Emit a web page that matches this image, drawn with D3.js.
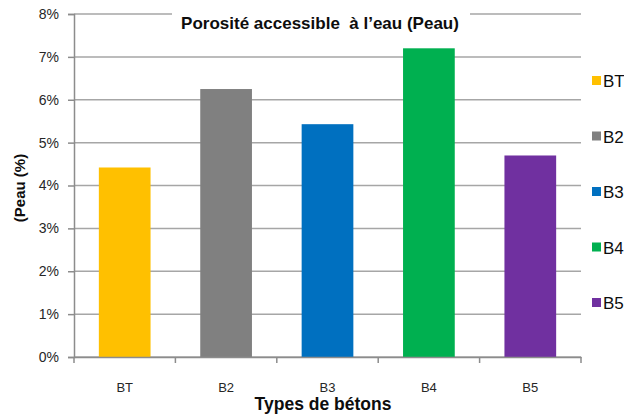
<!DOCTYPE html>
<html>
<head>
<meta charset="utf-8">
<script src="https://cdn.jsdelivr.net/npm/d3@7"></script>
<style>
  body { margin: 0; background: #fff; }
  text { font-family: "Liberation Sans", Arial, sans-serif; }
</style>
</head>
<body>
<svg id="svg" width="624" height="415"></svg>
<script>
var categories = ["BT", "B2", "B3", "B4", "B5"];
var values = [4.42, 6.25, 5.43, 7.2, 4.7];
var colors = ["#ffc000", "#808080", "#0070c0", "#00b050", "#7030a0"];
var yTicks = [0, 1, 2, 3, 4, 5, 6, 7, 8];

var svg = d3.select("svg");
var margin = { top: 14, left: 74, right: 43, bottom: 58 };
var chartWidth = 624 - margin.left - margin.right;
var chartHeight = 415 - margin.top - margin.bottom;

var chart = svg.append("g")
    .attr("transform", "translate(" + margin.left + "," + margin.top + ")");

var xScale = d3.scaleBand()
    .domain(categories)
    .range([0, chartWidth])
    .paddingInner(0.49)
    .paddingOuter(0.245);

var yScale = d3.scaleLinear()
    .domain([0, 8])
    .range([chartHeight, 0]);

// gridlines
chart.selectAll(".grid")
    .data(yTicks)
    .enter().append("line")
    .attr("x1", 0)
    .attr("x2", chartWidth)
    .attr("y1", function (d) { return yScale(d); })
    .attr("y2", function (d) { return yScale(d); })
    .attr("stroke", "#a6a6a6")
    .attr("stroke-width", 1.5);

// y axis
var yAxis = d3.axisLeft(yScale)
    .tickValues(yTicks)
    .tickSize(6)
    .tickPadding(9)
    .tickFormat(function (d) { return d + "%"; });

var gy = chart.append("g").call(yAxis);
gy.select(".domain").attr("stroke", "#8c8c8c").attr("stroke-width", 1.5);
gy.selectAll(".tick line").attr("stroke", "#8c8c8c").attr("stroke-width", 1.5);
gy.selectAll(".tick text")
    .attr("font-size", 14)
    .attr("fill", "#262626")
    .style("font-family", "'Liberation Sans', Arial, sans-serif");

// bars
chart.selectAll("rect.bar")
    .data(values)
    .enter().append("rect")
    .attr("class", "bar")
    .attr("x", function (d, i) { return xScale(categories[i]); })
    .attr("y", function (d) { return yScale(d); })
    .attr("width", xScale.bandwidth())
    .attr("height", function (d) { return chartHeight - yScale(d); })
    .attr("fill", function (d, i) { return colors[i]; });

// x axis
var xAxis = d3.axisBottom(xScale).tickSize(0).tickPadding(26);
var gx = chart.append("g")
    .attr("transform", "translate(0," + chartHeight + ")")
    .call(xAxis);
gx.select(".domain").attr("stroke", "#8c8c8c").attr("stroke-width", 1.5);
gx.selectAll(".tick text")
    .attr("font-size", 13)
    .attr("fill", "#262626")
    .style("font-family", "'Liberation Sans', Arial, sans-serif");

// category boundary ticks
chart.selectAll(".xtick")
    .data(d3.range(categories.length + 1))
    .enter().append("line")
    .attr("x1", function (i) { return i * chartWidth / categories.length; })
    .attr("x2", function (i) { return i * chartWidth / categories.length; })
    .attr("y1", chartHeight)
    .attr("y2", chartHeight + 6)
    .attr("stroke", "#8c8c8c")
    .attr("stroke-width", 1.5);

// title with white background
var title = "Porosité accessible  à l’eau (Peau)";
svg.append("rect")
    .attr("x", 172)
    .attr("y", 6)
    .attr("width", 298)
    .attr("height", 28)
    .attr("fill", "#fff");
svg.append("text")
    .attr("x", 320)
    .attr("y", 29)
    .attr("text-anchor", "middle")
    .attr("font-size", 17)
    .attr("font-weight", "bold")
    .attr("fill", "#0d0d0d")
    .style("white-space", "pre")
    .text(title);

// axis titles
svg.append("text")
    .attr("transform", "translate(25,188) rotate(-90)")
    .attr("text-anchor", "middle")
    .attr("font-size", 15)
    .attr("font-weight", "bold")
    .attr("fill", "#0d0d0d")
    .text("(Peau (%)");

svg.append("text")
    .attr("x", 323)
    .attr("y", 410)
    .attr("text-anchor", "middle")
    .attr("font-size", 17.5)
    .attr("font-weight", "bold")
    .attr("fill", "#0d0d0d")
    .text("Types de bétons");

// legend
var legend = svg.selectAll(".legend")
    .data(categories)
    .enter().append("g")
    .attr("transform", function (d, i) { return "translate(592," + (81 + i * 55.5) + ")"; });
legend.append("rect")
    .attr("x", 0)
    .attr("y", -5)
    .attr("width", 9)
    .attr("height", 9)
    .attr("fill", function (d, i) { return colors[i]; });
legend.append("text")
    .attr("x", 11)
    .attr("y", 6)
    .attr("font-size", 17)
    .attr("fill", "#0d0d0d")
    .text(function (d) { return d; });
</script>
</body>
</html>
